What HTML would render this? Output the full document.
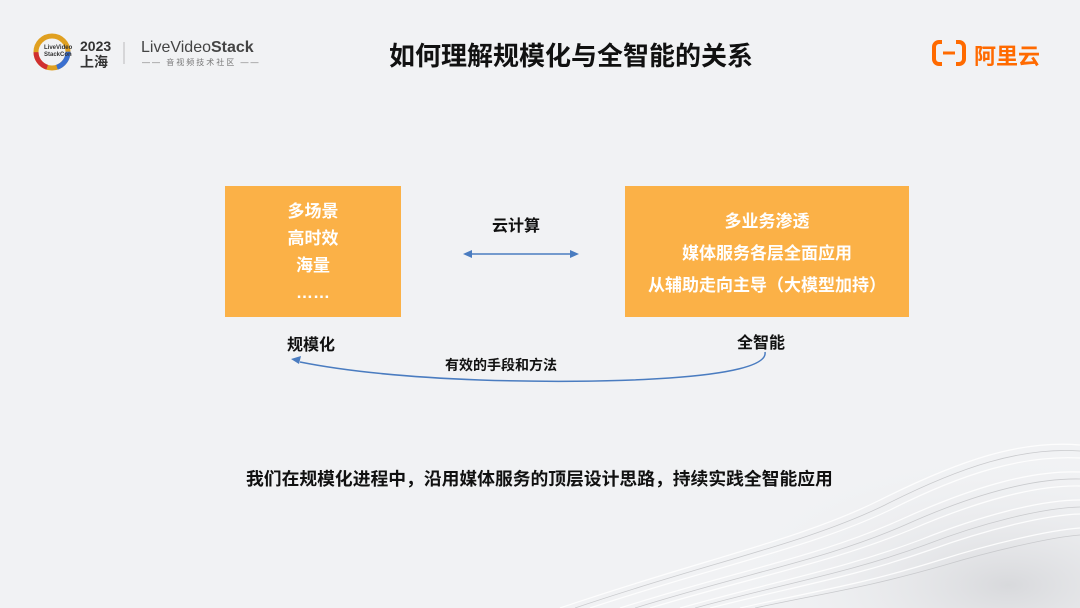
<!DOCTYPE html>
<html><head><meta charset="utf-8"><style>
body{margin:0;width:1080px;height:608px;overflow:hidden;background:#f1f2f4;font-family:"Liberation Sans","Noto Sans CJK SC",sans-serif;position:relative}
.a{position:absolute;white-space:nowrap}
.box{position:absolute;background:#fbb147;color:#fff;font-weight:bold;font-size:17px;text-align:center}
.b{font-weight:bold;color:#111}
</style></head><body>
<svg class="a" style="left:0;top:0" width="1080" height="608">
<defs><radialGradient id="g" cx="0.85" cy="0.9" r="0.6"><stop offset="0" stop-color="#d8d9dc"/><stop offset="1" stop-color="#f1f2f4" stop-opacity="0"/></radialGradient></defs>
<rect x="600" y="380" width="480" height="228" fill="url(#g)"/>
<g fill="none" stroke="#fff" stroke-width="1.2" opacity="0.9">
<path d="M560 608 C700 560 800 540 880 500 C960 460 1020 440 1080 445"/>
<path d="M590 608 C720 565 810 548 890 510 C965 472 1025 455 1080 458"/>
<path d="M620 608 C740 570 820 556 900 520 C970 488 1030 470 1080 472"/>
<path d="M650 608 C760 575 830 563 910 530 C975 502 1035 485 1080 486"/>
<path d="M680 608 C780 580 840 570 920 540 C980 516 1040 500 1080 500"/>
<path d="M710 608 C800 585 850 578 930 550 C985 530 1045 515 1080 514"/>
<path d="M740 608 C820 590 860 585 940 560 C990 544 1050 530 1080 528"/>
</g>
<g fill="none" stroke="#c9cacd" stroke-width="0.8">
<path d="M575 608 C710 562 805 544 885 505 C962 466 1022 447 1080 451"/>
<path d="M635 608 C750 572 825 560 905 525 C972 495 1032 478 1080 479"/>
<path d="M695 608 C790 582 845 574 925 545 C982 523 1042 508 1080 507"/>
<path d="M755 608 C830 592 865 588 945 565 C992 551 1052 537 1080 535"/>
</g>
<circle cx="52" cy="52" r="16" fill="none" stroke="#e0a020" stroke-width="5"/>
<circle cx="52" cy="52" r="16" fill="none" stroke="#3a6fd0" stroke-width="5" stroke-dasharray="20 80"/>
<circle cx="52" cy="52" r="16" fill="none" stroke="#d03030" stroke-width="5" stroke-dasharray="0 30 20 60"/>
<line x1="124" y1="42" x2="124" y2="64" stroke="#bbb"/>
<line x1="465" y1="254" x2="577" y2="254" stroke="#4a7cc0" stroke-width="1.5"/>
<path d="M463 254 l9 -4 v8z M579 254 l-9 -4 v8z" fill="#4a7cc0"/>
<path d="M765 352 C770 380 600 384 480 380 C400 377 340 370 300 362" fill="none" stroke="#4a7cc0" stroke-width="1.5"/>
<path d="M291 359 l10 -3 l-2 8z" fill="#4a7cc0"/>
<rect x="934" y="42" width="30" height="22" rx="5" fill="none" stroke="#ff6a00" stroke-width="4"/>
<rect x="942" y="40" width="14" height="26" fill="#f1f2f4"/>
<line x1="943" y1="53" x2="955" y2="53" stroke="#ff6a00" stroke-width="3"/>
</svg>
<div class="a" style="left:44px;top:45px;font-size:6px;color:#333;font-weight:bold;line-height:7px">LiveVideo<br>StackCon</div>
<div class="a b" style="left:80px;top:38px;font-size:14px;line-height:16px;color:#333">2023<br>上海</div>
<div class="a" style="left:141px;top:39px;font-size:16px;color:#444">LiveVideo<b>Stack</b></div>
<div class="a" style="left:142px;top:57px;font-size:8px;color:#777;letter-spacing:2px">—— 音视频技术社区 ——</div>
<div class="a b" style="left:389px;top:36px;font-size:26px">如何理解规模化与全智能的关系</div>
<div class="a" style="left:974px;top:39px;font-size:22px;color:#ff6a00;font-weight:bold">阿里云</div>
<div class="box" style="left:225px;top:186px;width:176px;height:131px;line-height:27px;padding-top:12px;box-sizing:border-box">多场景<br>高时效<br>海量<br>……</div>
<div class="box" style="left:625px;top:186px;width:284px;height:131px;line-height:32px;padding-top:20px;box-sizing:border-box">多业务渗透<br>媒体服务各层全面应用<br>从辅助走向主导（大模型加持）</div>
<div class="a b" style="left:492px;top:212px;font-size:16px">云计算</div>
<div class="a b" style="left:287px;top:331px;font-size:16px">规模化</div>
<div class="a b" style="left:737px;top:329px;font-size:16px">全智能</div>
<div class="a b" style="left:445px;top:355px;font-size:14px">有效的手段和方法</div>
<div class="a b" style="left:246px;top:465px;font-size:17.8px">我们在规模化进程中，沿用媒体服务的顶层设计思路，持续实践全智能应用</div>
</body></html>
